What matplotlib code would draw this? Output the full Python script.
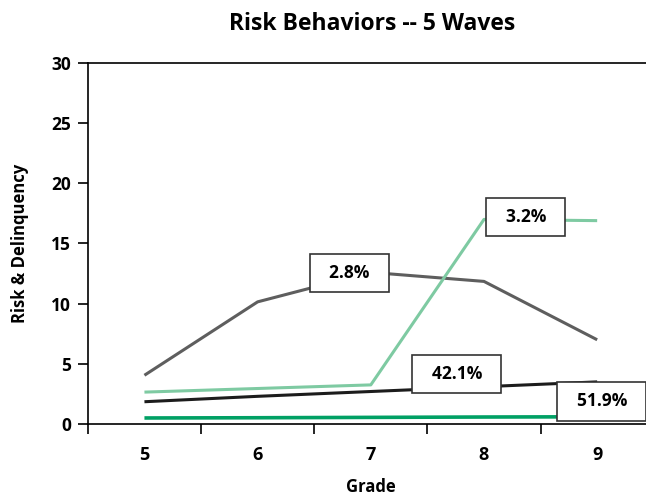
import matplotlib.pyplot as plt
import numpy as np

plt.rcParams['font.family'] = ['Open Sans', 'DejaVu Sans']

grades = ['5', '6', '7', '8', '9']
series_gray = [4.05, 10.15, 12.6, 11.85, 7.0]
series_light = [2.65, 2.95, 3.25, 17.0, 16.9]
series_black = [1.85, 2.3, 2.7, 3.1, 3.5]
series_green = [0.5, 0.52, 0.55, 0.58, 0.6]
label_text = ['2.8%', '3.2%', '42.1%', '51.9%']
label_x = [1.81, 3.37, 2.76, 4.04]
label_y = [12.55, 17.2, 4.16, 1.9]

fig = plt.figure(figsize=(6.46, 4.98), dpi=100)
ax = fig.add_axes([0.136, 0.1486, 0.876, 0.7249])

x = np.arange(len(grades))
ax.plot(x, series_gray, color='#5e5e5e', lw=2.2, solid_capstyle='butt')
ax.plot(x, series_light, color='#7ecaa2', lw=2.2, solid_capstyle='butt')
ax.plot(x, series_black, color='#1c1c1c', lw=2.2, solid_capstyle='butt')
ax.plot(x, series_green, color='#00a064', lw=2.6, solid_capstyle='butt')

# data labels in white boxes
for t, lx, ly in zip(label_text, label_x, label_y):
    ax.text(lx, ly, '  ' + t + '  ', ha='center', va='center', fontsize=12.5,
            fontweight='bold', color='black', zorder=5,
            bbox=dict(boxstyle='square,pad=0.6', fc='white', ec='#333333', lw=1.2))

ax.set_xlim(-0.5, 4.5)
ax.set_ylim(0, 30)
ax.set_yticks(np.arange(0, 31, 5))
ax.set_xticks(x)
ax.set_xticklabels(grades)
ax.set_xticks(np.arange(-0.5, 5, 1), minor=True)
ax.tick_params(axis='x', which='major', length=0, pad=16, labelsize=13)
ax.tick_params(axis='x', which='minor', length=7, width=1.2, direction='out')
ax.tick_params(axis='y', length=7, width=1.2, direction='out', labelsize=12.5, pad=5)
for lab in ax.get_xticklabels() + ax.get_yticklabels():
    lab.set_fontweight('bold')

ax.spines['right'].set_visible(False)
for s in ['left', 'top', 'bottom']:
    ax.spines[s].set_linewidth(1.2)

ax.set_xlabel('Grade', fontsize=12, fontweight='bold', labelpad=10)
ax.set_ylabel('Risk & Delinquency', fontsize=12, fontweight='bold', labelpad=16)
fig.text(0.576, 0.952, 'Risk Behaviors -- 5 Waves', ha='center', va='center',
         fontsize=16.5, fontweight='bold')

fig.savefig('out.png', dpi=100)
